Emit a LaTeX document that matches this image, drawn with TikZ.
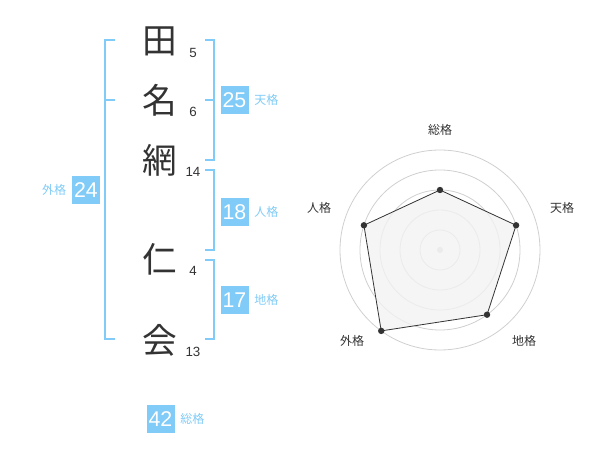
\documentclass[tikz,border=0pt]{standalone}
\usepackage{fontspec}
\setmainfont{Liberation Sans}
\newfontfamily\jp{Noto Sans CJK JP}
\usetikzlibrary{positioning}
\definecolor{kakublue}{HTML}{80CBF7}
\definecolor{inkgray}{HTML}{333333}
\definecolor{ringgray}{HTML}{CFCFCF}
\definecolor{radarfill}{HTML}{F2F2F2}

\begin{document}
\begin{tikzpicture}[x=0.75pt, y=-0.75pt,
	kanji/.style={font=\jp\fontsize{26}{26}\selectfont, text=inkgray, inner sep=0pt},
	strokes/.style={font=\fontsize{10}{10}\selectfont, text=inkgray, inner sep=0pt},
	kakubox/.style={fill=kakublue, text=white, minimum width=21pt, minimum height=21pt, inner sep=0pt, font=\fontsize{16}{16}\selectfont},
	kakulabel/.style={text=kakublue, font=\jp\fontsize{9}{9}\selectfont, inner sep=0pt},
	bracket/.style={draw=kakublue, line width=1.5pt},
	ring/.style={draw=ringgray, line width=0.6pt},
	radarlabel/.style={text=inkgray, font=\jp\fontsize{9}{9}\selectfont, inner sep=0pt}]
	\useasboundingbox (0,0) rectangle (600,470);
	%name
	\foreach \k/\y/\c/\n in {1/41/田/5, 2/100/名/6, 3/160/網/14, 4/259/仁/4, 5/340/会/13}
	{
		\node[kanji] (c\k) at (160,\y) {\c};
		\node[strokes] (n\k) at (193,{\y+12}) {\n};
	}
	%brackets
	\draw[bracket] (115,40) -- (105,40) -- (105,339) -- (115,339)
	(105,100) -- (115,100);
	\draw[bracket] (205,40) -- (214,40) -- (214,160) -- (205,160)
	(205,100) -- (214,100);
	\draw[bracket] (205,170) -- (214,170) -- (214,250) -- (205,250);
	\draw[bracket] (205,260) -- (214,260) -- (214,339) -- (205,339);
	%boxes
	\node[kakubox] (ten) at (234.5,100) {25};
	\node[kakulabel, right=4pt of ten] (tenlab) {天格};
	\node[kakubox] (jin) at (234.5,212) {18};
	\node[kakulabel, right=4pt of jin] (jinlab) {人格};
	\node[kakubox] (chi) at (234.5,300) {17};
	\node[kakulabel, right=4pt of chi] (chilab) {地格};
	\node[kakubox] (gai) at (86,190) {24};
	\node[kakulabel, left=4pt of gai] (gailab) {外格};
	\node[kakubox] (sou) at (160.5,419) {42};
	\node[kakulabel, right=4pt of sou] (soulab) {総格};
	%radar
	\begin{scope}[shift={(440,250)}]
		\foreach \r in {20,40,...,100}
		\draw[ring] (0,0) circle[radius=\r*0.75pt];
		\fill[ringgray] (0,0) circle[radius=2.25pt];
		\foreach \p/\a/\r/\lx/\ly/\lab in {sou/-90/60/0/-120/総格, ten/-18/80/122/-42/天格, chi/54/80/84/91/地格, gai/126/100/-88/91/外格, jin/-162/80/-121/-42/人格}
		{
			\coordinate (p\p) at (\a:\r);
			\node[radarlabel] (l\p) at (\lx,\ly) {\lab};
		}
		\filldraw[fill=radarfill, fill opacity=0.8, draw=inkgray, line width=0.6pt]
		(psou) -- (pten) -- (pchi) -- (pgai) -- (pjin) -- cycle;
		\foreach \p in {sou,ten,chi,gai,jin}
		\fill[inkgray] (p\p) circle[radius=2.4pt];
	\end{scope}
\end{tikzpicture}
\end{document}
